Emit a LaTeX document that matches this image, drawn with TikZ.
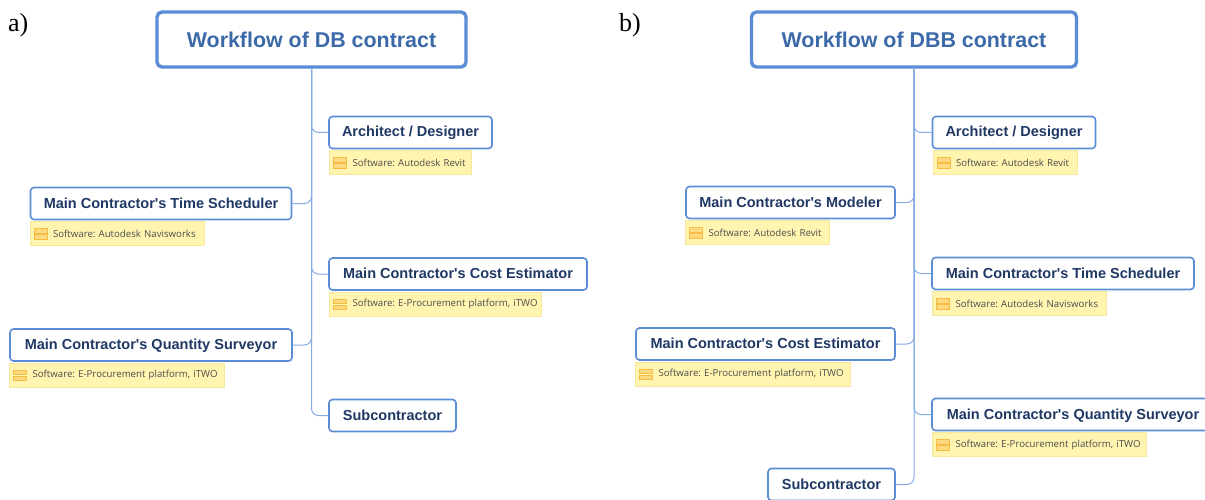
\documentclass[tikz,border=0pt]{standalone}
\usepackage{fontspec}
\setmainfont[Ligatures=TeXOff]{Liberation Sans}
\newfontfamily\notefont{Open Sans}
\newfontfamily\tagfont{Liberation Serif}
\usetikzlibrary{positioning}
\definecolor{boxline}{HTML}{5B8DD6}
\definecolor{linkline}{HTML}{86ABE3}
\definecolor{boxtext}{HTML}{1F3864}
\definecolor{titletext}{HTML}{3C6AA8}
\definecolor{notefill}{HTML}{FFF5B0}
\definecolor{noteline}{HTML}{F7E79A}
\definecolor{iconfill}{HTML}{FFD97F}
\definecolor{iconline}{HTML}{F6BC45}
\begin{document}
\begin{tikzpicture}[
		x=1pt, y=-1pt,
		title/.style={draw=boxline, line width=3.4pt, rounded corners=5pt, fill=white, text=titletext, font=\fontsize{21.4}{24}\selectfont\bfseries, minimum height=55pt, inner sep=0pt},
		block/.style={draw=boxline, line width=1.6pt, rounded corners=3.5pt, fill=white, text=boxtext, font=\fontsize{14.5}{17}\selectfont\bfseries, minimum height=32pt, inner sep=0pt, text height=10.5pt, text depth=1.5pt},
		note/.style={fill=notefill, draw=noteline, line width=0.8pt, text=black!70, font=\notefont\fontsize{9.65}{11}\selectfont\frenchspacing, minimum height=24pt, inner xsep=0pt, inner ysep=0pt, anchor=north west, align=left, execute at begin node={\hspace*{23pt}},
			path picture={
				\fill[iconfill, draw=iconline, line width=0.6pt] ([xshift=4pt, yshift=0.8pt]path picture bounding box.west) rectangle ++(13pt, 4.5pt);
				\fill[iconfill, draw=iconline, line width=0.6pt] ([xshift=4pt, yshift=-0.8pt]path picture bounding box.west) rectangle ++(13pt, -4.5pt);
			}},
		tag/.style={font=\tagfont\fontsize{26}{28}\selectfont, inner sep=0pt, anchor=west},
		link/.style={draw=linkline, line width=1pt, rounded corners=7pt}
	]
		\useasboundingbox (0,0) rectangle (1205,500);

		\node[tag] (taga) at (8,25) {a)};
		\node[title, minimum width=309pt] (flowa) at (311.5,39.5) {Workflow of DB contract};
		\node[block, minimum width=163pt] (archa) at (410.5,132.5) {Architect / Designer};
		\node[note, text width=142pt, below right=1pt and 1pt of archa.south west] (archnotea) {Software: Autodesk Revit};
		\node[block, minimum width=261pt] (timea) at (161,203.5) {Main Contractor's Time Scheduler};
		\node[note, text width=174pt, below right=1pt and 0pt of timea.south west] (timenotea) {Software: Autodesk Navisworks};
		\node[block, minimum width=258pt] (costa) at (458,274) {Main Contractor's Cost Estimator};
		\node[note, text width=212pt, below right=1pt and 1pt of costa.south west] (costnotea) {Software: E-Procurement platform, iTWO};
		\node[block, minimum width=282pt] (surva) at (151,345) {Main Contractor's Quantity Surveyor};
		\node[note, text width=215pt, below right=1pt and 0pt of surva.south west] (survnotea) {Software: E-Procurement platform, iTWO};
		\node[block, minimum width=127pt] (suba) at (392.5,415.5) {Subcontractor};

		\draw[link] (flowa.south) |- (archa.west);
		\draw[link] (flowa.south) |- (timea.east);
		\draw[link] (flowa.south) |- (costa.west);
		\draw[link] (flowa.south) |- (surva.east);
		\draw[link] (flowa.south) |- (suba.west);

		\node[tag] (tagb) at (619,25) {b)};
		\node[title, minimum width=325pt] (flowb) at (914,39.5) {Workflow of DBB contract};
		\node[block, minimum width=163pt] (archb) at (1014,132.5) {Architect / Designer};
		\node[note, text width=144pt, below right=1pt and 1pt of archb.south west] (archnoteb) {Software: Autodesk Revit};
		\node[block, minimum width=209pt] (modb) at (790.5,202.5) {Main Contractor's Modeler};
		\node[note, text width=144pt, below right=1pt and 0pt of modb.south west] (modnoteb) {Software: Autodesk Revit};
		\node[block, minimum width=262pt] (timeb) at (1063,273.5) {Main Contractor's Time Scheduler};
		\node[note, text width=174pt, below right=1pt and 1pt of timeb.south west] (timenoteb) {Software: Autodesk Navisworks};
		\node[block, minimum width=259pt] (costb) at (765.5,344) {Main Contractor's Cost Estimator};
		\node[note, text width=215pt, below right=1pt and 0pt of costb.south west] (costnoteb) {Software: E-Procurement platform, iTWO};
		\node[block, minimum width=282pt] (survb) at (1073,414.5) {Main Contractor's Quantity Surveyor};
		\node[note, text width=214pt, below right=1pt and 1pt of survb.south west] (survnoteb) {Software: E-Procurement platform, iTWO};
		\node[block, minimum width=127pt] (subb) at (831.5,484.5) {Subcontractor};

		\draw[link] (flowb.south) |- (archb.west);
		\draw[link] (flowb.south) |- (modb.east);
		\draw[link] (flowb.south) |- (timeb.west);
		\draw[link] (flowb.south) |- (costb.east);
		\draw[link] (flowb.south) |- (survb.west);
		\draw[link] (flowb.south) |- (subb.east);
	\end{tikzpicture}
\end{document}
